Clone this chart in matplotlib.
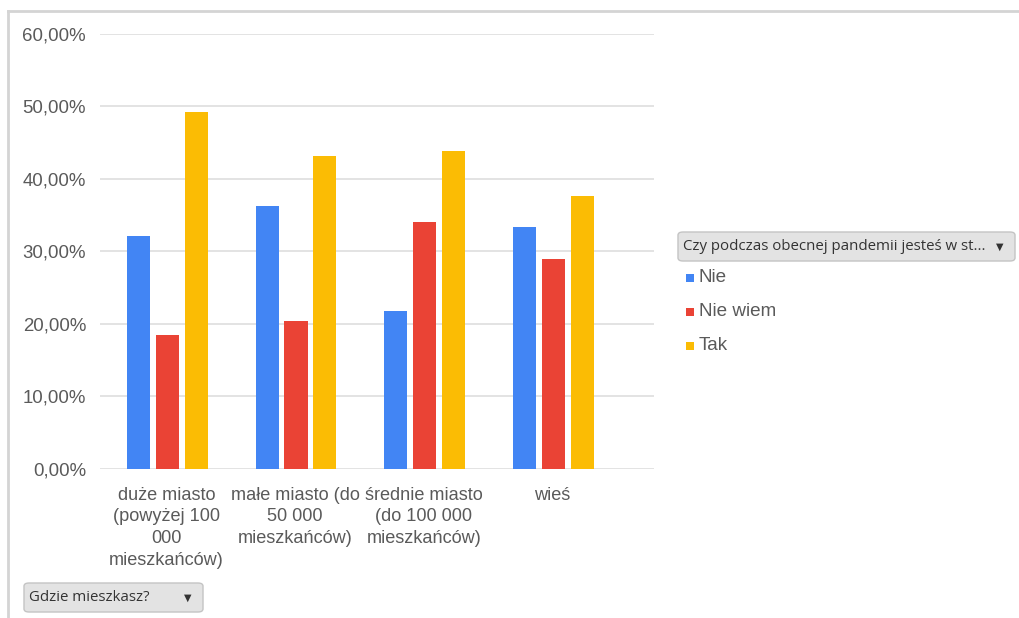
import numpy as np
import matplotlib
matplotlib.use("Agg")
import matplotlib.pyplot as plt
from matplotlib.patches import FancyBboxPatch, Rectangle
from matplotlib.lines import Line2D

# data
categories = ["duże miasto\n(powyżej 100\n000\nmieszkańców)",
              "małe miasto (do\n50 000\nmieszkańców)",
              "średnie miasto\n(do 100 000\nmieszkańców)",
              "wieś"]
series = ["Nie", "Nie wiem", "Tak"]
nie = [0.3205, 0.3630, 0.2180, 0.3330]
nie_wiem = [0.1840, 0.2040, 0.3400, 0.2890]
tak = [0.4920, 0.4310, 0.4380, 0.3760]
colors = ["#4285f4", "#ea4335", "#fbbc04"]
legend_title = "Czy podczas obecnej pandemii jesteś w st..."
filter_label = "Gdzie mieszkasz?"

plt.rcParams['font.family'] = ['Liberation Sans', 'DejaVu Sans']

fig = plt.figure(figsize=(10.2, 6.18), dpi=100)
ax = fig.add_axes([100/1020, 1 - 468.7/618, 554/1020, (468.7 - 34)/618])

x = np.arange(len(categories))
w = 0.179
step = 0.225
for i, vals in enumerate([nie, nie_wiem, tak]):
    ax.bar(x + (i - 1)*step + 0.006, vals, width=w, color=colors[i], label=series[i], zorder=3)

ax.set_xlim(-0.517, 3.788)
ax.set_ylim(0, 0.6)
yt = np.arange(0, 0.61, 0.1)
ax.set_yticks(yt)
ax.set_yticklabels([("%.2f%%" % (v*100)).replace(".", ",") for v in yt], color="#5a5a5a", fontsize=13.4)
ax.set_xticks(x)
ax.set_xticklabels(categories, color="#5a5a5a", fontsize=13.1, linespacing=1.36, va="top")
ax.tick_params(length=0)
ax.tick_params(axis="y", pad=10)
ax.tick_params(axis="x", pad=13)
ax.grid(axis="y", color="#e0e0e0", linewidth=1.3, zorder=0)
for s in ax.spines.values():
    s.set_visible(False)

# outer frame lines (top and left)
fig.add_artist(Line2D([8/1020, 1], [1 - 10.5/618, 1 - 10.5/618], color="#d4d4d4", linewidth=2))
fig.add_artist(Line2D([8/1020, 8/1020], [1 - 10.5/618, 0], color="#d4d4d4", linewidth=2))

def dropdown(x0, y0, x1, y1, text):
    W, H = 1020, 618
    box = FancyBboxPatch((x0/W, 1 - y1/H), (x1 - x0)/W, (y1 - y0)/H,
                         boxstyle="round,pad=0,rounding_size=0.005",
                         transform=fig.transFigure, facecolor="#e3e3e3",
                         edgecolor="#c4c4c4", linewidth=1)
    fig.add_artist(box)
    fig.text((x0 + 5)/W, 1 - (y0 + y1)/2/H, text, fontsize=10.8, color="#333333",
             family=["Open Sans", "DejaVu Sans"], va="center", ha="left")
    fig.text((x1 - 15)/W, 1 - (y0 + y1)/2/H, "▼", fontsize=7, color="#333333",
             family=["DejaVu Sans"], va="center", ha="center")

dropdown(678, 232, 1015, 261, legend_title)
dropdown(24, 583, 203, 612, filter_label)

# legend items
for i, name in enumerate(series):
    yc = 278 + i*34
    fig.add_artist(Rectangle((686/1020, 1 - (yc + 4)/618), 8/1020, 8/618,
                             transform=fig.transFigure, facecolor=colors[i], edgecolor="none"))
    fig.text(699/1020, 1 - yc/618, name, fontsize=13.6, color="#5a5a5a", va="center", ha="left")

fig.savefig("out.png", dpi=100)
